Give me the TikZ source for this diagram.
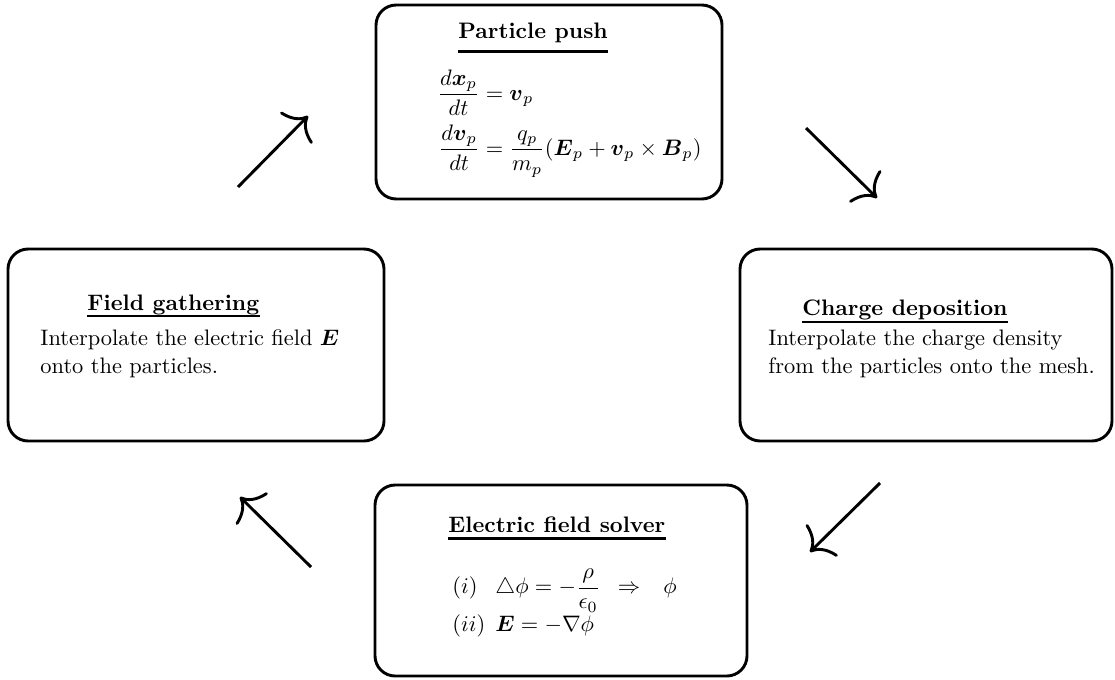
\documentclass[tikz,border=0pt]{standalone}
\usepackage{amsmath}
\usetikzlibrary{arrows.meta,fit}
\begin{document}
\begin{tikzpicture}[x=0.4464pt,y=-0.4464pt,
  box/.style={draw, line width=1.3pt, rounded corners=9pt, inner sep=0pt},
  title/.style={font=\bfseries, inner sep=0pt, anchor=base west},
  body/.style={inner sep=0pt, anchor=base west, align=left, font=\fontsize{10}{12.6}\selectfont},
  uline/.style={line width=1.3pt},
  flow/.style={line width=1.3pt, -{Computer Modern Rightarrow[length=8pt,width=20pt]}}]
\useasboundingbox (0,0) rectangle (1115,679);

% boxes
\node[box, fit={(376,5)(722,199)}] (push) {};
\node[box, fit={(8,249)(384,441)}] (gather) {};
\node[box, fit={(740,249)(1112,441)}] (deposit) {};
\node[box, fit={(375,485)(747,676)}] (solve) {};

% titles
\node[title] (pushT) at (458,38) {Particle push};
\draw[uline] (pushT.base west |- 0,51.5) -- (pushT.base east |- 0,51.5);
\node[title] (gatherT) at (87,310) {Field gathering};
\draw[uline] (gatherT.base west |- 0,316) -- (gatherT.base east |- 0,316);
\node[title] (depositT) at (802,315) {Charge deposition};
\draw[uline] (depositT.base west |- 0,322) -- (depositT.base east |- 0,322);
\node[title] (solveT) at (448,532) {Electric field solver};
\draw[uline] (solveT.base west |- 0,538.5) -- (solveT.base east |- 0,538.5);

% bodies (base = baseline of last line)
\node[body] (gatherB) at (40,373.5) {Interpolate the electric field $\boldsymbol{E}$\\onto the particles.};
\node[body] (depositB) at (768,373.5) {Interpolate the charge density\\from the particles onto the mesh.};

\node[inner sep=0pt, anchor=west] (pushE) at (437,123.5) {$\begin{aligned}
  \frac{d\boldsymbol{x}_p}{dt} &= \boldsymbol{v}_p\\
  \frac{d\boldsymbol{v}_p}{dt} &= \frac{q_p}{m_p}(\boldsymbol{E}_p + \boldsymbol{v}_p\times\boldsymbol{B}_p)
\end{aligned}$};

\node[inner sep=0pt, anchor=west] (solveE) at (452,604) {$\begin{array}{@{}l@{\hspace{4.5pt}}l@{}}
  (i) & \triangle\phi = -\dfrac{\rho}{\epsilon_0} \hspace{5pt}\Rightarrow\hspace{7.5pt} \phi\\[4.5pt]
  (ii) & \boldsymbol{E} = -\nabla\phi
\end{array}$};

% cycle arrows
\coordinate (a1s) at (238,187); \coordinate (a1e) at (308,116);
\coordinate (a2s) at (806,128); \coordinate (a2e) at (877,198);
\coordinate (a3s) at (880,483); \coordinate (a3e) at (810,552);
\coordinate (a4s) at (311,567); \coordinate (a4e) at (240,497);
\draw[flow] (a1s) -- (a1e);
\draw[flow] (a2s) -- (a2e);
\draw[flow] (a3s) -- (a3e);
\draw[flow] (a4s) -- (a4e);
\end{tikzpicture}
\end{document}
